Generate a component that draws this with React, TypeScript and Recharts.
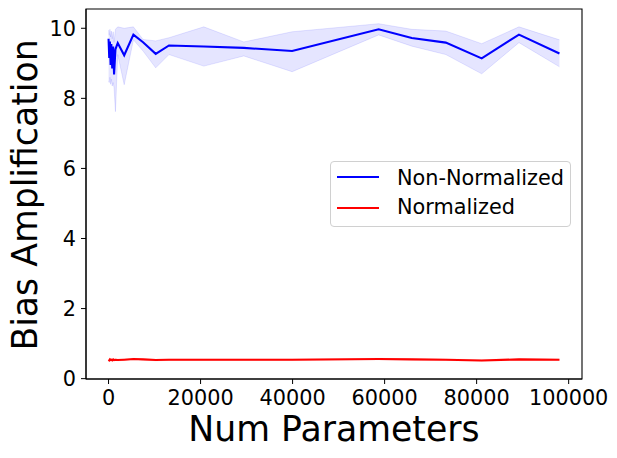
import React from 'react';
import { ComposedChart, Line, Area, XAxis, YAxis, ReferenceArea } from 'recharts';

// values
const numParams = [0, 150, 300, 450, 600, 800, 1000, 1200, 1500, 2000, 3400, 5400, 7500, 10250, 13140, 20700, 29400, 39900, 58700, 65900, 73300, 81100, 89200, 98000];

const nonNormMean = [9.70, 9.15, 9.62, 8.95, 9.55, 8.85, 9.48, 8.68, 9.40, 9.58, 9.23, 9.82, 9.60, 9.27, 9.51, 9.48, 9.44, 9.35, 9.97, 9.72, 9.59, 9.14, 9.82, 9.28];
const nonNormLow = [8.50, 8.45, 8.60, 8.40, 8.55, 8.35, 8.45, 8.30, 7.62, 9.25, 8.39, 9.67, 9.35, 8.87, 9.25, 8.92, 9.21, 8.76, 9.81, 9.49, 9.25, 8.70, 9.59, 8.90];
const nonNormHigh = [9.95, 9.80, 9.97, 9.75, 9.92, 9.70, 9.90, 9.60, 9.97, 10.04, 10.00, 10.04, 9.68, 9.64, 9.73, 10.04, 9.61, 9.90, 10.13, 9.97, 9.92, 9.56, 10.04, 9.67];

const normMean = [0.54, 0.52, 0.55, 0.53, 0.54, 0.52, 0.55, 0.53, 0.54, 0.53, 0.54, 0.56, 0.55, 0.53, 0.54, 0.54, 0.54, 0.54, 0.56, 0.55, 0.54, 0.52, 0.55, 0.54];
const normLow = [0.52, 0.50, 0.53, 0.51, 0.52, 0.50, 0.53, 0.51, 0.52, 0.51, 0.52, 0.54, 0.53, 0.51, 0.52, 0.52, 0.52, 0.52, 0.54, 0.53, 0.52, 0.50, 0.53, 0.52];
const normHigh = [0.56, 0.54, 0.57, 0.55, 0.56, 0.54, 0.57, 0.55, 0.56, 0.55, 0.56, 0.58, 0.57, 0.55, 0.56, 0.56, 0.56, 0.56, 0.58, 0.57, 0.56, 0.54, 0.57, 0.56];

const xTicks = [0, 20000, 40000, 60000, 80000, 100000];
const yTicks = [0, 2, 4, 6, 8, 10];

const seriesNames = ['Non-Normalized', 'Normalized'];
const seriesColors = ['#0000ff', '#ff0000'];

const X_DOMAIN: [number, number] = [-4900, 102900];
const Y_DOMAIN: [number, number] = [-0.01, 10.55];

const data = numParams.map((x, i) => ({
  x,
  nonNorm: nonNormMean[i],
  nonNormBand: [nonNormLow[i], nonNormHigh[i]],
  norm: normMean[i],
  normBand: [normLow[i], normHigh[i]],
}));

const FONT = "'DejaVu Sans', sans-serif";

const App: React.FC = () => {
  return (
    <div style={{ position: 'absolute', left: 0, top: 0, width: 617, height: 458, background: '#fff', fontFamily: FONT }}>
      <ComposedChart
        width={617}
        height={458}
        data={data}
        margin={{ top: 9, right: 35, bottom: 0, left: 0 }}
        style={{ fontFamily: FONT }}
      >
        <XAxis
          dataKey="x"
          type="number"
          domain={X_DOMAIN}
          ticks={xTicks}
          allowDataOverflow
          height={79}
          stroke="#000"
          tickSize={5}
          tickMargin={6}
          tick={{ fill: '#000', fontSize: 20.8 }}
        />
        <YAxis
          type="number"
          domain={Y_DOMAIN}
          ticks={yTicks}
          allowDataOverflow
          width={86}
          stroke="#000"
          tickSize={5}
          tickMargin={5}
          tick={{ fill: '#000', fontSize: 20.8 }}
        />
        <ReferenceArea
          x1={X_DOMAIN[0]}
          x2={X_DOMAIN[1]}
          y1={Y_DOMAIN[0]}
          y2={Y_DOMAIN[1]}
          fill="none"
          stroke="#000"
          strokeWidth={1.1}
          ifOverflow="visible"
        />
        <Area
          dataKey="nonNormBand"
          type="linear"
          fill={seriesColors[0]}
          fillOpacity={0.1}
          stroke={seriesColors[0]}
          strokeOpacity={0.1}
          strokeWidth={1}
          isAnimationActive={false}
          activeDot={false}
        />
        <Line
          dataKey="nonNorm"
          type="linear"
          stroke={seriesColors[0]}
          strokeWidth={2.08}
          dot={false}
          isAnimationActive={false}
        />
        <Area
          dataKey="normBand"
          type="linear"
          fill={seriesColors[1]}
          fillOpacity={0.1}
          stroke={seriesColors[1]}
          strokeOpacity={0.1}
          strokeWidth={1}
          isAnimationActive={false}
          activeDot={false}
        />
        <Line
          dataKey="norm"
          type="linear"
          stroke={seriesColors[1]}
          strokeWidth={2.08}
          dot={false}
          isAnimationActive={false}
        />
      </ComposedChart>

      {/* axis titles */}
      <svg width={617} height={458} style={{ position: 'absolute', left: 0, top: 0, pointerEvents: 'none' }}>
        <text x={334} y={441} textAnchor="middle" fontSize={34.7} fill="#000" fontFamily={FONT}>
          Num Parameters
        </text>
        <text
          x={0}
          y={0}
          transform="translate(37,195) rotate(-90)"
          textAnchor="middle"
          fontSize={34.7}
          fill="#000"
          fontFamily={FONT}
        >
          Bias Amplification
        </text>
      </svg>

      {/* legend */}
      <div
        style={{
          position: 'absolute',
          left: 330,
          top: 161,
          width: 241,
          height: 66,
          border: '1px solid #d0d0d0',
          borderRadius: 4,
          background: 'rgba(255,255,255,0.8)',
          boxSizing: 'border-box',
        }}
      />
      {seriesNames.map((name, i) => (
        <React.Fragment key={name}>
          <div
            style={{
              position: 'absolute',
              left: 337,
              top: (i === 0 ? 176.7 : 208.3) - 1,
              width: 42,
              height: 2.08,
              background: seriesColors[i],
            }}
          />
          <div
            style={{
              position: 'absolute',
              left: 397,
              top: i === 0 ? 168.4 : 197.4,
              fontSize: 20.8,
              lineHeight: '20.8px',
              color: '#000',
              whiteSpace: 'nowrap',
            }}
          >
            {name}
          </div>
        </React.Fragment>
      ))}
    </div>
  );
};

export default App;
